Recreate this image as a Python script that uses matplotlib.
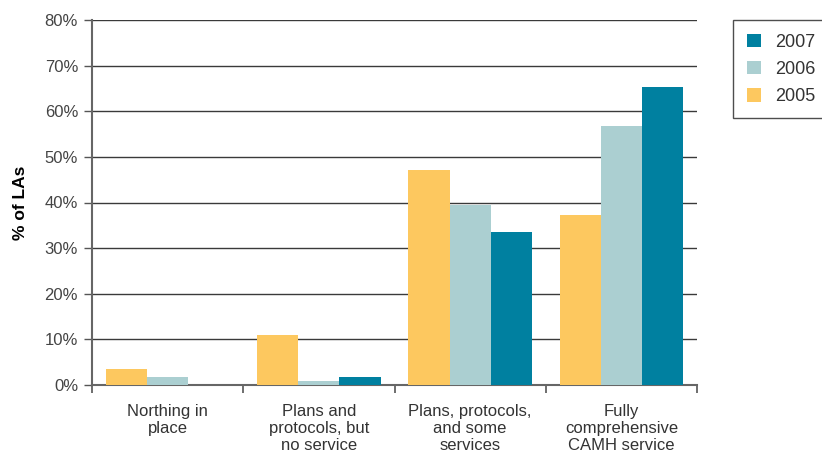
import numpy as np
import matplotlib
matplotlib.use("Agg")
import matplotlib.pyplot as plt

plt.rcParams['font.family'] = ['Liberation Sans', 'DejaVu Sans']

# categories and values (% of LAs)
categories = ["Northing in\nplace", "Plans and\nprotocols, but\nno service",
              "Plans, protocols,\nand some\nservices", "Fully\ncomprehensive\nCAMH service"]
years = ["2005", "2006", "2007"]
values_2005 = [3.5, 11.0, 47.1, 37.3]
values_2006 = [1.7, 0.9, 39.5, 56.8]
values_2007 = [0.0, 1.7, 33.5, 65.3]
y_ticks = [0, 10, 20, 30, 40, 50, 60, 70, 80]

colors = {"2005": "#FDC85F", "2006": "#ABCFD1", "2007": "#0080A0"}
series = {"2005": values_2005, "2006": values_2006, "2007": values_2007}

fig = plt.figure(figsize=(8.22, 4.55), dpi=100)
ax = fig.add_axes([92 / 822, 70 / 455, 605 / 822, 365 / 455])

x = np.arange(len(categories))
w = 0.272
bars = {}
for i, yr in enumerate(years):
    bars[yr] = ax.bar(x + (i - 1) * w, series[yr], width=w, color=colors[yr],
                      zorder=3, linewidth=0)

ax.set_xlim(-0.5, len(categories) - 0.5)
ax.set_ylim(0, 80)
ax.set_yticks(y_ticks)
ax.set_yticklabels([f"{t}%" for t in y_ticks], fontsize=12, color="#444444")
ax.yaxis.grid(True, color="#3a3a3a", linewidth=1, zorder=0)
ax.set_axisbelow(True)

ax.set_xticks(x)
ax.set_xticklabels(categories, fontsize=12, color="#333333", linespacing=1.15)
ax.set_xticks(np.arange(-0.5, len(categories)), minor=True)
ax.tick_params(axis="x", which="major", length=0, pad=14)
ax.tick_params(axis="x", which="minor", length=6, width=1.2, color="#555555")
ax.tick_params(axis="y", length=6, width=1, color="#555555", pad=4)

for s in ["top", "right"]:
    ax.spines[s].set_visible(False)
ax.spines["left"].set_color("#666666")
ax.spines["left"].set_linewidth(1.5)
ax.spines["bottom"].set_color("#666666")
ax.spines["bottom"].set_linewidth(1.5)

ax.set_ylabel("% of LAs", fontsize=12.5, fontweight="bold", labelpad=12)

handles = [bars["2007"], bars["2006"], bars["2005"]]
leg = fig.legend(handles, ["2007", "2006", "2005"], loc="upper left",
                 bbox_to_anchor=(733 / 822, 1 - 20 / 455), fontsize=13,
                 frameon=True, fancybox=False, edgecolor="#222222",
                 handlelength=0.8, handleheight=0.8, labelspacing=0.55,
                 borderpad=0.75, handletextpad=0.8, borderaxespad=0)
leg.get_frame().set_linewidth(1.0)
for t in leg.get_texts():
    t.set_color("#333333")

fig.savefig("out.png", dpi=100)
